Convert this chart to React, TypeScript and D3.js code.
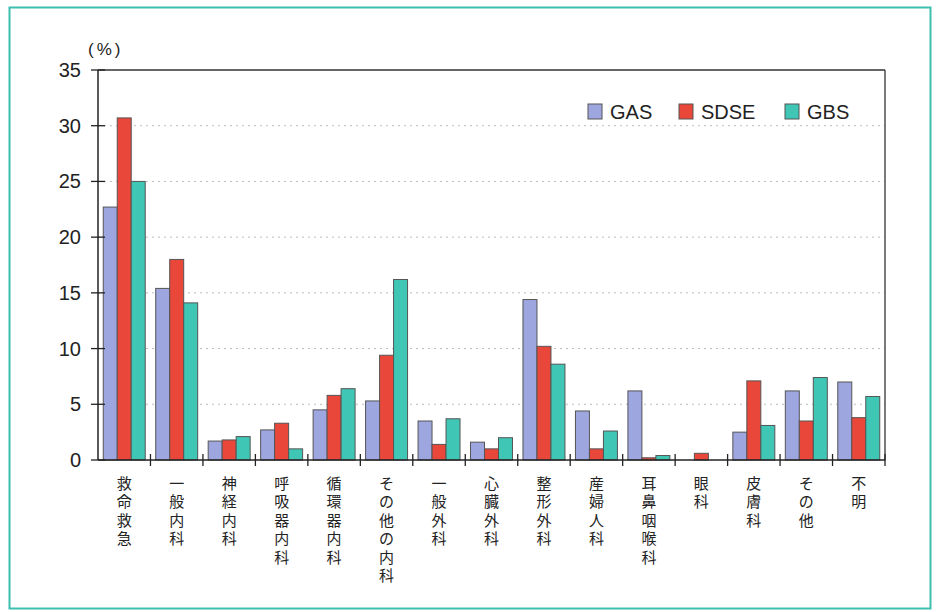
import React from "react";
import * as d3 from "d3";

// Departments (each label is written vertically, one character per line)
const categories: string[] = [
  "救命救急", "一般内科", "神経内科", "呼吸器内科", "循環器内科",
  "その他の内科", "一般外科", "心臓外科", "整形外科", "産婦人科",
  "耳鼻咽喉科", "眼科", "皮膚科", "その他", "不明",
];

const seriesNames: string[] = ["GAS", "SDSE", "GBS"];

const gasValues: number[] = [22.7, 15.4, 1.7, 2.7, 4.5, 5.3, 3.5, 1.6, 14.4, 4.4, 6.2, 0, 2.5, 6.2, 7.0];
const sdseValues: number[] = [30.7, 18.0, 1.8, 3.3, 5.8, 9.4, 1.4, 1.0, 10.2, 1.0, 0.2, 0.6, 7.1, 3.5, 3.8];
const gbsValues: number[] = [25.0, 14.1, 2.1, 1.0, 6.4, 16.2, 3.7, 2.0, 8.6, 2.6, 0.4, 0, 3.1, 7.4, 5.7];

const yTicks: number[] = [0, 5, 10, 15, 20, 25, 30, 35];

const colors: string[] = ["#9ea6e0", "#ea473b", "#3fc6b5"];

export default function App() {
  const width = 938;
  const height = 612;
  const left = 98;
  const right = 885;
  const top = 70;
  const bottom = 460;

  const series = [gasValues, sdseValues, gbsValues];

  const x = d3.scaleBand<string>().domain(categories).range([left, right]).paddingInner(0.2).paddingOuter(0.1);
  const xOuter = d3.scaleBand<string>().domain(categories).range([left, right]);
  const xInner = d3.scaleBand<string>().domain(seriesNames).range([0, x.bandwidth()]);
  const y = d3.scaleLinear().domain([0, 35]).range([bottom, top]);

  const tickFont = "'Liberation Sans', Arial, sans-serif";
  const jpFont = "'Liberation Sans', 'Noto Sans CJK JP', sans-serif";

  return (
    <svg width={width} height={height} style={{ position: "absolute", left: 0, top: 0, background: "#fff" }}>
      {/* outer frame */}
      <rect x={9.5} y={7.5} width={921} height={601} fill="none" stroke="#3cbfae" strokeWidth={2} />

      {/* grid lines */}
      {yTicks.filter((t) => t > 0 && t < 35).map((t) => (
        <line key={"g" + t} x1={left} x2={right} y1={y(t)} y2={y(t)} stroke="#bbb" strokeWidth={1} strokeDasharray="2,4" />
      ))}

      {/* plot border top/right */}
      <line x1={left} x2={right} y1={top} y2={top} stroke="#333" strokeWidth={1.3} />
      <line x1={right} x2={right} y1={top} y2={bottom} stroke="#333" strokeWidth={1.3} />

      {/* bars */}
      {series.map((vals, si) =>
        vals.map((v, ci) => {
          const c = categories[ci];
          const bx = (x(c) as number) + (xInner(seriesNames[si]) as number);
          return (
            <rect
              key={si + "-" + ci}
              x={bx}
              y={y(v)}
              width={xInner.bandwidth()}
              height={bottom - y(v)}
              fill={colors[si]}
              stroke="#555"
              strokeWidth={1}
            />
          );
        })
      )}

      {/* y axis */}
      <line x1={left} x2={left} y1={top} y2={bottom} stroke="#222" strokeWidth={1.5} />
      {yTicks.map((t) => (
        <g key={"t" + t}>
          <line x1={left - 7} x2={left + 7} y1={y(t)} y2={y(t)} stroke="#222" strokeWidth={1.3} />
          <text x={left - 17} y={y(t)} dy="0.35em" textAnchor="end" fontFamily={tickFont} fontSize={20} fill="#222">
            {t}
          </text>
        </g>
      ))}
      <text x={88} y={55} fontFamily={tickFont} fontSize={17} letterSpacing={3} fill="#222">(%)</text>

      {/* x axis */}
      <line x1={left} x2={right} y1={bottom} y2={bottom} stroke="#222" strokeWidth={1.5} />
      {categories.map((c, i) => {
        const tx = (xOuter(c) as number) + xOuter.bandwidth();
        return <line key={"xt" + i} x1={tx} x2={tx} y1={bottom - 6} y2={bottom + 6} stroke="#222" strokeWidth={1.3} />;
      })}
      {categories.map((c, i) => {
        const cx = (xOuter(c) as number) + xOuter.bandwidth() / 2;
        return (
          <g key={"xl" + i}>
            {Array.from(c).map((ch, k) => (
              <text key={k} x={cx} y={489 + k * 18.4} fontFamily={jpFont} fontSize={15} fill="#222" textAnchor="middle">
                {ch}
              </text>
            ))}
          </g>
        );
      })}

      {/* legend */}
      {seriesNames.map((s, i) => {
        const lx = [588, 679, 785][i];
        return (
          <g key={"lg" + s}>
            <rect x={lx} y={104} width={14} height={15} fill={colors[i]} stroke="#555" strokeWidth={1} />
            <text x={lx + 22} y={119} fontFamily={tickFont} fontSize={20} fill="#222">
              {s}
            </text>
          </g>
        );
      })}
    </svg>
  );
}
